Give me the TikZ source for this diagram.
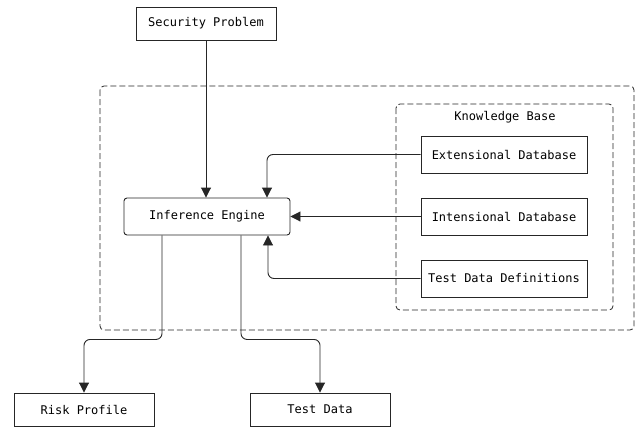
\documentclass[tikz,border=0pt]{standalone}
\usepackage{fontspec}
\setmonofont{DejaVu Sans Mono}
\usetikzlibrary{arrows.meta}
\tikzset{
    block/.style={draw=black!85, line width=0.9pt, minimum width=140pt, minimum height=33pt,
        inner sep=0pt, font=\ttfamily\fontsize{12}{14}\selectfont},
    wideblock/.style={block, minimum width=166pt, minimum height=37pt},
    engine/.style={wideblock, rounded corners=3pt},
    region/.style={draw=black!85, dash pattern=on 6pt off 3pt, line width=0.8pt, rounded corners=4pt},
    flow/.style={draw=black!85, line width=0.9pt, rounded corners=6pt,
        -{Triangle[length=10pt,width=10pt]}},
}

\begin{document}
\begin{tikzpicture}[x=1pt, y=-1pt]
    \useasboundingbox (0,0) rectangle (636,428);

    % groups
    \draw[region] (100,86) rectangle (634,330);
    \draw[region] (396,104) rectangle (613,310);
    \node[font=\ttfamily\fontsize{12}{14}\selectfont] (kb) at (505,117) {Knowledge Base};

    % boxes
    \node[block] (sec) at (206,23.5) {Security Problem};
    \node[engine] (inf) at (207,216.5) {Inference Engine};
    \node[wideblock] (ext) at (504,154.5) {Extensional Database};
    \node[wideblock] (int) at (504,216.5) {Intensional Database};
    \node[wideblock] (tdd) at (504,278.5) {Test Data Definitions};
    \node[block] (risk) at (84,409.5) {Risk Profile};
    \node[block] (td) at (320,409.5) {Test Data};

    % flows
    \draw[flow] (sec.south) -- (sec.south |- inf.north);
    \draw[flow] (ext.west) -| ([xshift=60pt]inf.north);
    \draw[flow] (int.west) -- (inf.east);
    \draw[flow] (tdd.west) -| ([xshift=61pt]inf.south);
    \draw[flow] ([xshift=-45pt]inf.south) -- ++(0,104) -| (risk.north);
    \draw[flow] ([xshift=34pt]inf.south) -- ++(0,104) -| (td.north);
\end{tikzpicture}
\end{document}
